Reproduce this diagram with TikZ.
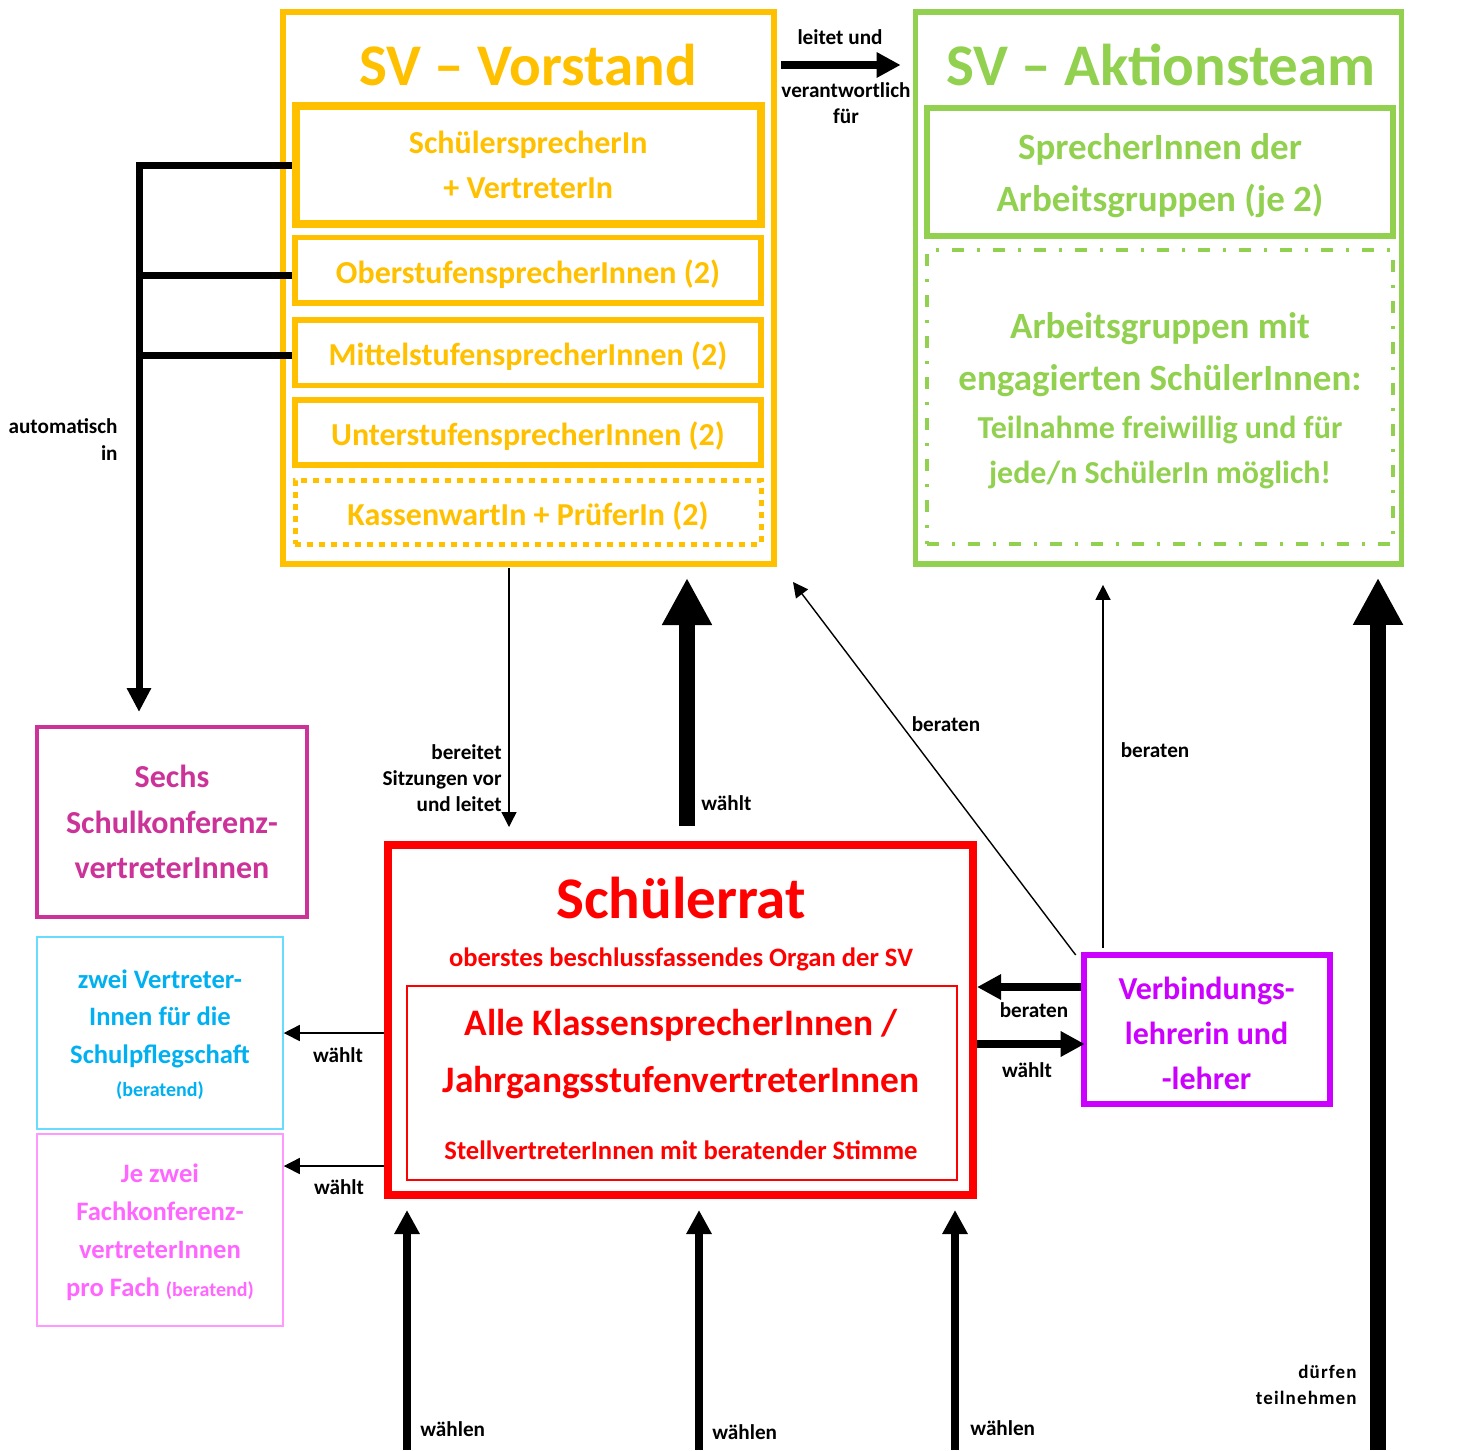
\documentclass[tikz,border=0pt]{standalone}
\usepackage{fontspec}
\setmainfont{Carlito}
\newfontfamily\spacedfont[LetterSpace=6]{Carlito}
\usetikzlibrary{arrows.meta,calc}
\definecolor{svyellow}{HTML}{FFC000}
\definecolor{svgreen}{HTML}{92D050}
\definecolor{svred}{HTML}{FF0000}
\definecolor{svmag}{HTML}{CC3399}
\definecolor{svcyan}{HTML}{00B0F0}
\definecolor{svcyanl}{HTML}{66DDFF}
\definecolor{svpink}{HTML}{FF66FF}
\definecolor{svpinkl}{HTML}{FF99FF}
\definecolor{svpurple}{HTML}{CC00FF}
\newcommand\fsz[2]{\fontsize{#1}{#2}\selectfont}
\begin{document}
\begin{tikzpicture}[x=0.5pt,y=-0.5pt,
  box/.style={draw, inner sep=0pt, align=center},
  txt/.style={align=center, inner sep=0pt},
  lbl/.style={text=black, font=\bfseries\fsz{10.6}{13}, inner sep=0pt, align=center},
  arrS/.style={line width=0.7pt, -{Triangle[length=7.5pt,width=7.5pt]}},
  arrM/.style={line width=4pt, -{Triangle[length=12pt,width=12pt]}},
  arrXL/.style={line width=8pt, -{Triangle[length=23.5pt,width=23.5pt]}},
  autol/.style={line width=3.5pt},
  ybox/.style={box, draw=svyellow, text=svyellow, line width=2.75pt, minimum width=233pt, font=\bfseries\fsz{16}{22.5}, text height=15pt, text depth=2pt},
  title/.style={font=\bfseries\fsz{29.5}{35}, inner sep=0pt}
]
\useasboundingbox (0,0) rectangle (1475,1450);

% ---------- SV Vorstand ----------
\node[box, draw=svyellow, line width=3pt, minimum width=245.5pt, minimum height=276pt] (vorstand) at (528.5,288) {};
\node[title, text=svyellow] (vtitle) at (528,65) {SV – Vorstand};
\node[box, draw=svyellow, text=svyellow, line width=4pt, minimum width=232.75pt, minimum height=59pt, font=\bfseries\fsz{16}{22.5}] (schsp) at (528.25,165) {SchülersprecherIn\\+ VertreterIn};
\node[ybox, minimum height=32.75pt] (ober) at (528,270) {OberstufensprecherInnen (2)};
\node[ybox, minimum height=32.75pt] (mittel) at (528,352.75) {MittelstufensprecherInnen (2)};
\node[ybox, minimum height=32.5pt] (unter) at (528,432.5) {UnterstufensprecherInnen (2)};
\node[ybox, line width=2.5pt, dash pattern=on 3pt off 3pt, minimum height=32pt] (kasse) at (528,512) {KassenwartIn + PrüferIn (2)};

% ---------- SV Aktionsteam ----------
\node[box, draw=svgreen, line width=2.85pt, minimum width=243pt, minimum height=276pt] (aktion) at (1158.5,288) {};
\node[title, text=svgreen] (atitle) at (1161,65) {SV – Aktionsteam};
\node[box, draw=svgreen, line width=3pt, minimum width=233pt, minimum height=64pt] (agsp) at (1160,172) {};
\node[txt, text=svgreen, font=\bfseries\fsz{18.5}{26}] (agspt) at (1160,176) {SprecherInnen der\\Arbeitsgruppen (je 2)};
\node[box, draw=svgreen, line width=1.7pt, dash pattern=on 6pt off 6.5pt on 1.5pt off 6.5pt, minimum width=233pt, minimum height=147pt] (ag) at (1160,397) {};
\node[txt, text=svgreen, font=\bfseries\fsz{18.5}{26}] (agt1) at (1160,355) {Arbeitsgruppen mit\\engagierten SchülerInnen:};
\node[txt, text=svgreen, font=\bfseries\fsz{16}{22.5}] (agt2) at (1160,452.5) {Teilnahme freiwillig und für\\jede/n SchülerIn möglich!};

% ---------- Schuelerrat ----------
\node[box, draw=svred, line width=4pt, minimum width=292.5pt, minimum height=175pt] (rat) at (680.5,1020) {};
\node[title, text=svred] (rtitle) at (681,898) {Schülerrat};
\node[txt, text=svred, font=\bfseries\fsz{13.3}{16}] (rsub) at (681,959) {oberstes beschlussfassendes Organ der SV};
\node[box, draw=svred, line width=1pt, minimum width=275pt, minimum height=97pt] (klasse) at (682,1083) {};
\node[txt, text=svred, font=\bfseries\fsz{18.7}{28.5}] (kt) at (681,1054.5) {Alle KlassensprecherInnen /\\JahrgangsstufenvertreterInnen};
\node[txt, text=svred, font=\bfseries\fsz{13.3}{16}] (kst) at (681,1150.5) {StellvertreterInnen mit beratender Stimme};

% ---------- left boxes ----------
\node[box, draw=svmag, text=svmag, line width=2pt, minimum width=135pt, minimum height=95.25pt, font=\bfseries\fsz{16}{22.75}] (sechs) at (172,822) {Sechs\\Schulkonferenz-\\vertreterInnen};
\node[box, draw=svcyanl, line width=0.75pt, minimum width=123pt, minimum height=96pt] (zwei) at (160,1033) {};
\node[txt, text=svcyan, font=\bfseries\fsz{13.3}{18.75}] (zt) at (160,1018.5) {zwei Vertreter-\\Innen für die\\Schulpflegschaft};
\node[txt, text=svcyan, font=\bfseries\fsz{10}{12}] (zb) at (160,1091) {(beratend)};
\node[box, draw=svpinkl, line width=0.75pt, minimum width=123pt, minimum height=96pt] (je) at (160,1230) {};
\node[txt, text=svpink, font=\bfseries\fsz{13.3}{19}] (jet) at (160,1232) {Je zwei\\Fachkonferenz-\\vertreterInnen\\pro Fach {\fsz{10}{12}(beratend)}};

% ---------- Verbindungslehrer ----------
\node[box, draw=svpurple, line width=3pt, minimum width=122.9pt, minimum height=74.5pt] (verb) at (1206.6,1029.5) {};
\node[txt, text=svpurple, font=\bfseries\fsz{16}{22.5}] (verbt) at (1206.6,1033.5) {Verbindungs-\\lehrerin und\\-lehrer};

% ---------- connectors ----------
% leitet und verantwortlich fuer
\draw[arrM] ($(vorstand.east |- vtitle)+(4,0)$) -- ($(aktion.west |- vtitle)+(-12,0)$);
\node[lbl] (l1) at (840,37) {leitet und};
\node[lbl] (l2) at (846,103) {verantwortlich\\für};

% automatisch in
\coordinate (autotip) at (139,712);
\draw[autol, line join=miter, -{Triangle[length=12pt,width=11.5pt]}] (schsp.west) -| (autotip);
\draw[autol] ($(ober.west)+(0,5)$) coordinate (o1) -- (o1 -| autotip);
\draw[autol] ($(mittel.west)+(0,2.25)$) coordinate (m1) -- (m1 -| autotip);
\node[lbl, anchor=east, align=right, font=\bfseries\fsz{10.6}{13.5}] (l3) at (118,440) {automatisch\\in};

% bereitet Sitzungen vor
\draw[arrS] ($(vorstand.south)+(-19.5,1)$) -- ($(rat.north)+(-171.5,-14)$);
\node[lbl, anchor=east, align=right] (l4) at (502,778) {bereitet\\Sitzungen vor\\und leitet};

% Schuelerrat waehlt Vorstand
\draw[arrXL] ($(rat.north)+(6.5,-15)$) -- ($(vorstand.south)+(158.5,11)$);
\node[lbl, anchor=west] (l5) at (701,803) {wählt};

% Verbindungslehrer beraten Vorstand
\draw[arrS] ($(verb.north west)+(-5,3)$) -- ($(vorstand.south east)+(16,15)$);
\node[lbl] (l6) at (946,724) {beraten};

% Verbindungslehrer beraten Aktionsteam
\draw[arrS] ($(verb.north)+(-103.6,-4)$) coordinate (vb) -- ($(vb |- aktion.south)+(0,18)$);
\node[lbl] (l7) at (1155,750) {beraten};

% beraten / waehlt between Rat and Verbindungslehrer
\draw[arrM] ($(verb.west)+(0,-42.5)$) coordinate (b1) -- (b1 -| rat.east);
\node[lbl] (l8) at (1034,1010) {beraten};
\coordinate (b2) at ($(verb.west)+(0,14.5)$);
\draw[arrM] (b2 -| rat.east) -- ($(b2)+(4,0)$);
\node[lbl] (l9) at (1027,1070) {wählt};

% Rat waehlt left boxes
\draw[arrS, line width=0.75pt, -{Triangle[length=8pt,width=8pt]}] (rat.west |- zwei.east) -- (zwei.east);
\node[lbl] (l10) at (338,1055) {wählt};
\coordinate (j1) at ($(je.east)+(0,-64)$);
\draw[arrS, line width=0.75pt, -{Triangle[length=8pt,width=8pt]}] (rat.west |- j1) -- (j1);
\node[lbl] (l11) at (339,1187) {wählt};

% waehlen (bottom)
\coordinate (w1) at (407,1450);
\coordinate (w2) at (699,1450);
\coordinate (w3) at (955,1450);
\draw[arrM] (w1) -- ($(w1 |- rat.south)+(0,11)$);
\draw[arrM] (w2) -- ($(w2 |- rat.south)+(0,11)$);
\draw[arrM] (w3) -- ($(w3 |- rat.south)+(0,11)$);
\node[lbl, anchor=west] (l12) at (420,1429) {wählen};
\node[lbl, anchor=west] (l13) at (712,1432) {wählen};
\node[lbl, anchor=west] (l14) at (970,1428) {wählen};

% duerfen teilnehmen
\coordinate (dt) at (1378,1450);
\draw[arrXL] (dt) -- ($(dt |- aktion.south)+(0,11)$);
\node[lbl, anchor=east, align=right, font=\spacedfont\bfseries\fsz{9.5}{13}] (l15) at (1357,1385) {dürfen\\teilnehmen};
\end{tikzpicture}
\end{document}
